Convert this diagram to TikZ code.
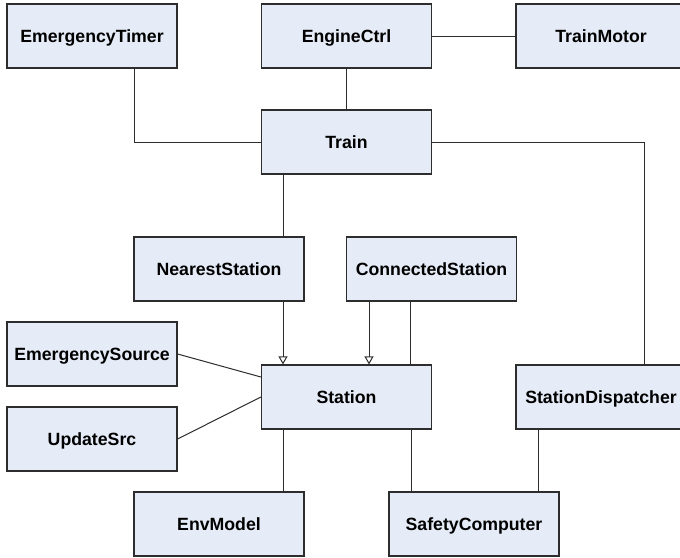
\documentclass[tikz,border=0pt]{standalone}
\usepackage{fontspec}
\setmainfont{Liberation Sans}
\usetikzlibrary{arrows.meta}
\definecolor{boxfill}{RGB}{230,236,247}
\definecolor{linecol}{RGB}{45,45,45}
\tikzset{
  cls/.style={draw=linecol, line width=1.2pt, fill=boxfill, rectangle,
    minimum width=170pt, minimum height=64pt, inner sep=0pt,
    text height=12.7pt, text depth=0pt,
    font=\fontsize{17.7}{20}\selectfont\bfseries, text=black},
  conn/.style={draw=linecol, line width=1pt},
  gen/.style={conn, -{Triangle[open, length=8pt, width=9pt, fill=white]}}
}
\begin{document}
\begin{tikzpicture}[x=1pt, y=-1pt]
\path[use as bounding box] (0,0) rectangle (680,557);
\clip (0,0) rectangle (680,557);
\fill[white] (0,0) rectangle (680,557);
\node[cls] (ET) at (92,36) {EmergencyTimer};
\node[cls] (EC) at (346.5,36) {EngineCtrl};
\node[cls] (TM) at (601,36) {TrainMotor};
\node[cls] (TR) at (346.5,142) {Train};
\node[cls] (NS) at (219,269) {NearestStation};
\node[cls] (CS) at (431.5,269) {ConnectedStation};
\node[cls] (ES) at (92,354) {EmergencySource};
\node[cls] (ST) at (346.5,397) {Station};
\node[cls] (SD) at (601,397) {StationDispatcher};
\node[cls] (US) at (92,439) {UpdateSrc};
\node[cls] (EM) at (219,524) {EnvModel};
\node[cls] (SC) at (474,524) {SafetyComputer};
% connectors
\draw[conn] ([xshift=42pt]ET.south) |- (TR.west);
\draw[conn] (EC.east) -- (TM.west);
\draw[conn] (EC.south) -- (TR.north);
\draw[conn] (TR.east) -| ([xshift=43pt]SD.north);
\draw[conn] ([xshift=-63.5pt]TR.south) -- ([xshift=64pt]NS.north);
\draw[gen] ([xshift=64pt]NS.south) -- ([xshift=-63.5pt]ST.north);
\draw[gen] ([xshift=-62.5pt]CS.south) -- ([xshift=22.5pt]ST.north);
\draw[conn] ([xshift=-21.5pt]CS.south) -- ([xshift=63.5pt]ST.north);
\draw[conn] (ES.east) -- ([yshift=20pt]ST.west);
\draw[conn] (ST.west) -- (US.east);
\draw[conn] ([xshift=-63.5pt]ST.south) -- ([xshift=64pt]EM.north);
\draw[conn] ([xshift=64.5pt]ST.south) -- ([xshift=-63pt]SC.north);
\draw[conn] ([xshift=-63pt]SD.south) -- ([xshift=64pt]SC.north);
\end{tikzpicture}
\end{document}
